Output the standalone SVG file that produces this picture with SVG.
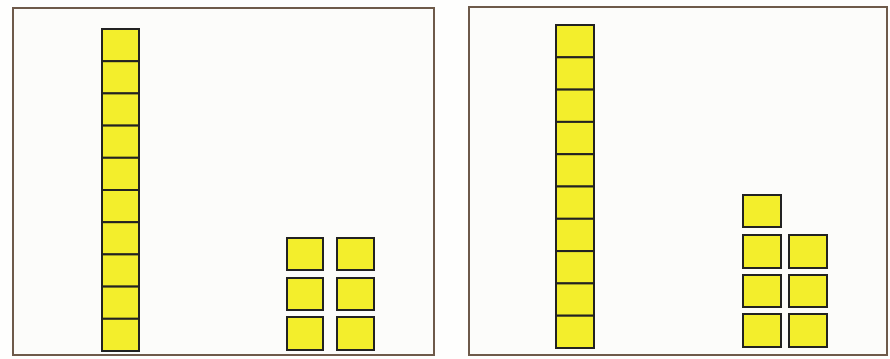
<svg xmlns="http://www.w3.org/2000/svg" width="890" height="359" viewBox="0 0 890 359">
<style>
.frame{fill:#fcfcfa;stroke:#6e5a4a;stroke-width:2}
.cell{fill:#f3ee2c;stroke:#222;stroke-width:2}
</style>
<rect width="890" height="359" fill="#fefefd"/>
<g id="panel-left">
<rect class="frame" x="13" y="8" width="421" height="347"/>
<g id="rod-left">
<rect class="cell" x="102" y="29" width="37" height="32.2"/>
<rect class="cell" x="102" y="61.2" width="37" height="32.2"/>
<rect class="cell" x="102" y="93.4" width="37" height="32.2"/>
<rect class="cell" x="102" y="125.6" width="37" height="32.2"/>
<rect class="cell" x="102" y="157.8" width="37" height="32.2"/>
<rect class="cell" x="102" y="190" width="37" height="32.2"/>
<rect class="cell" x="102" y="222.2" width="37" height="32.2"/>
<rect class="cell" x="102" y="254.4" width="37" height="32.2"/>
<rect class="cell" x="102" y="286.6" width="37" height="32.2"/>
<rect class="cell" x="102" y="318.8" width="37" height="32.2"/>
</g>
<g id="ones-left">
<rect class="cell" x="287" y="238" width="36" height="32"/>
<rect class="cell" x="337" y="238" width="37" height="32"/>
<rect class="cell" x="287" y="278" width="36" height="32"/>
<rect class="cell" x="337" y="278" width="37" height="32"/>
<rect class="cell" x="287" y="317" width="36" height="33"/>
<rect class="cell" x="337" y="317" width="37" height="33"/>
</g>
</g>
<g id="panel-right">
<rect class="frame" x="469" y="7" width="418" height="348"/>
<g id="rod-right">
<rect class="cell" x="556" y="25" width="38" height="32.3"/>
<rect class="cell" x="556" y="57.3" width="38" height="32.3"/>
<rect class="cell" x="556" y="89.6" width="38" height="32.3"/>
<rect class="cell" x="556" y="121.9" width="38" height="32.3"/>
<rect class="cell" x="556" y="154.2" width="38" height="32.3"/>
<rect class="cell" x="556" y="186.5" width="38" height="32.3"/>
<rect class="cell" x="556" y="218.8" width="38" height="32.3"/>
<rect class="cell" x="556" y="251.1" width="38" height="32.3"/>
<rect class="cell" x="556" y="283.4" width="38" height="32.3"/>
<rect class="cell" x="556" y="315.7" width="38" height="32.3"/>
</g>
<g id="ones-right">
<rect class="cell" x="743" y="195" width="38" height="32"/>
<rect class="cell" x="743" y="235" width="38" height="33"/>
<rect class="cell" x="789" y="235" width="38" height="33"/>
<rect class="cell" x="743" y="275" width="38" height="32"/>
<rect class="cell" x="789" y="275" width="38" height="32"/>
<rect class="cell" x="743" y="314" width="38" height="33"/>
<rect class="cell" x="789" y="314" width="38" height="33"/>
</g>
</g>
<g id="connectors"/>
</svg>
